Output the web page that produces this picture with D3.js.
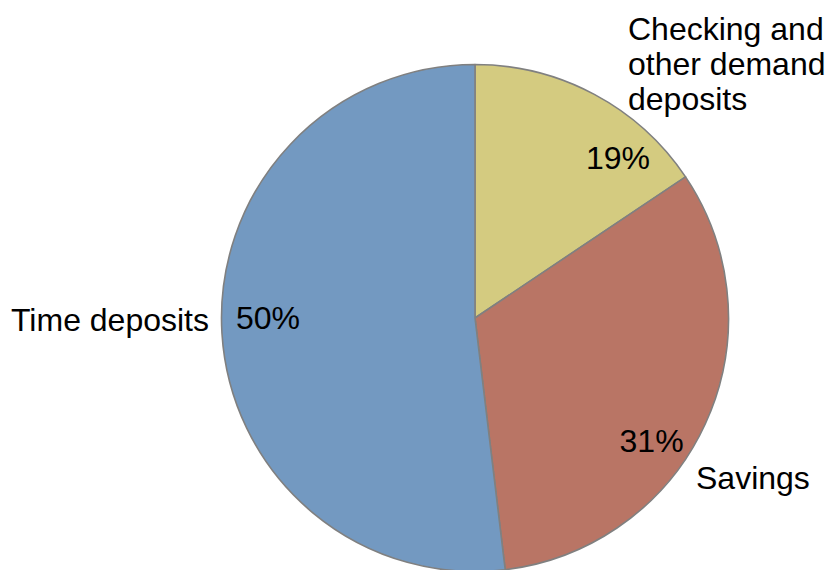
<!DOCTYPE html>
<html>
<head>
<meta charset="utf-8">
<script src="https://cdn.jsdelivr.net/npm/d3@7"></script>
<style>
  body { margin: 0; background: #fff; }
  svg { display: block; font-family: "Liberation Sans", Arial, sans-serif; }
</style>
</head>
<body>
<svg id="chart" width="827" height="570"></svg>
<script>
// Data
const categories = ["Checking and other demand deposits", "Savings", "Time deposits"];
const shares = [15.6, 32.5, 51.9]; // slice sizes as drawn
const pctLabels = ["19%", "31%", "50%"];
const colors = ["#d4cb80", "#b97565", "#7399c1"];

// Layout
const width = 827, height = 570;
const cx = 475, cy = 318, radius = 253.5;
const FONT = 32;
// where the percent labels sit (degrees clockwise from top, distance from centre)
const pctPos = [[41.7, 215], [124.8, 215], [270, 207]];
// category labels outside the pie
const catPos = [
  { x: 628, y: 39.5, anchor: "start", lines: ["Checking and", "other demand", "deposits"] },
  { x: 696, y: 489, anchor: "start", lines: ["Savings"] },
  { x: 209, y: 331, anchor: "end", lines: ["Time deposits"] }
];

const svg = d3.select("#chart");
const g = svg.append("g").attr("transform", `translate(${cx},${cy})`);

const pie = d3.pie().sort(null).value(d => d);
const arc = d3.arc().innerRadius(0).outerRadius(radius);

// Slices
g.selectAll("path.slice")
  .data(pie(shares))
  .join("path")
  .attr("class", "slice")
  .attr("d", arc)
  .attr("fill", (d, i) => colors[i])
  .attr("stroke", "#808080")
  .attr("stroke-width", 1.6)
  .attr("stroke-linejoin", "round");

// Percent labels
g.selectAll("text.pct")
  .data(pctLabels)
  .join("text")
  .attr("class", "pct")
  .attr("transform", (d, i) => {
    const [x, y] = d3.pointRadial(pctPos[i][0] * Math.PI / 180, pctPos[i][1]);
    return `translate(${x},${y})`;
  })
  .attr("dy", "0.35em")
  .attr("text-anchor", "middle")
  .attr("font-size", FONT)
  .attr("fill", "#000")
  .text(d => d);

// Category labels
catPos.forEach((p, i) => {
  const t = svg.append("text")
    .attr("class", "cat")
    .attr("x", p.x)
    .attr("y", p.y)
    .attr("text-anchor", p.anchor)
    .attr("font-size", FONT)
    .attr("fill", "#000")
    .attr("aria-label", categories[i]);
  p.lines.forEach((line, j) => {
    t.append("tspan")
      .attr("x", p.x)
      .attr("dy", j === 0 ? 0 : 35)
      .text(line);
  });
});
</script>
</body>
</html>
